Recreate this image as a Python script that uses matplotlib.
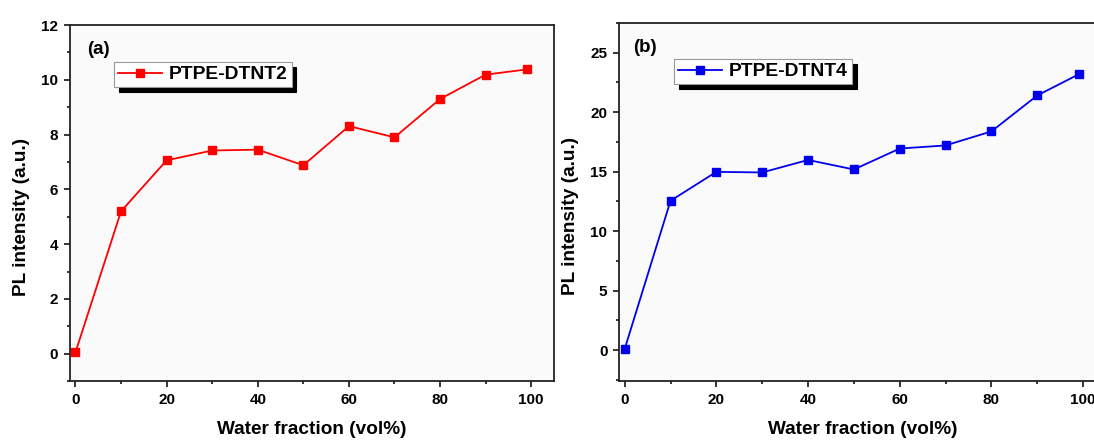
import numpy as np
import matplotlib
matplotlib.use("Agg")
import matplotlib.pyplot as plt
from matplotlib.ticker import MultipleLocator


water_fraction = [0, 10, 20, 30, 40, 50, 60, 70, 80, 90, 99]

pl_dtnt2 = [0.05, 5.2, 7.06, 7.42, 7.45, 6.88, 8.31, 7.9, 9.3, 10.19, 10.38]
pl_dtnt4 = [0.1, 12.55, 14.98, 14.93, 15.98, 15.18, 16.94, 17.2, 18.38, 21.4, 23.17]

x_ticks = [0, 20, 40, 60, 80, 100]
y_ticks_a = [0, 2, 4, 6, 8, 10, 12]
y_ticks_b = [0, 5, 10, 15, 20, 25]


plt.rcParams["font.family"] = ["Liberation Sans", "DejaVu Sans"]
plt.rcParams["font.weight"] = "bold"

fig = plt.figure(figsize=(10.94, 4.4), dpi=100)

ax_a = fig.add_axes([0.064, 0.134, 0.4424, 0.809])
ax_b = fig.add_axes([0.566, 0.134, 0.445, 0.814])

panels = [
    (ax_a, pl_dtnt2, "red", "PTPE-DTNT2", "(a)", y_ticks_a, (-1, 12), 1, (0.091, 0.896), (0.035, 0.93)),
    (ax_b, pl_dtnt4, "#0000ee", "PTPE-DTNT4", "(b)", y_ticks_b, (-2.6, 27.5), 2.5, (0.113, 0.899), (0.029, 0.93)),
]

for ax, values, color, name, tag, yticks, ylim, yminor, leg_pos, tag_pos in panels:
    ax.set_facecolor("#fafafa")
    ax.plot(water_fraction, values, color=color, linewidth=1.3, marker="s",
            markersize=5.3, label=name)

    ax.set_xlim(-1.2, 105)
    ax.set_ylim(*ylim)
    ax.set_xticks(x_ticks)
    ax.set_yticks(yticks)
    ax.xaxis.set_minor_locator(MultipleLocator(10))
    ax.yaxis.set_minor_locator(MultipleLocator(yminor))
    ax.tick_params(which="both", direction="out", top=False, right=False,
                   labelsize=11, width=1.1, pad=4)
    ax.tick_params(which="major", length=4.5)
    ax.tick_params(which="minor", length=2.5)
    for spine in ax.spines.values():
        spine.set_linewidth(1.3)
        spine.set_color("#222222")

    ax.set_xlabel("Water fraction (vol%)", fontsize=13.7, fontweight="bold")
    ax.set_ylabel("PL intensity (a.u.)", fontsize=13.7, fontweight="bold")
    ax.xaxis.set_label_coords(0.5, -0.112)
    ax.yaxis.set_label_coords(-0.083, 0.46)

    ax.text(tag_pos[0], tag_pos[1], tag, transform=ax.transAxes, fontsize=13.5,
            fontweight="bold", ha="left", va="center")

    leg = ax.legend(loc="upper left", bbox_to_anchor=leg_pos, borderaxespad=0,
                    fontsize=13.9, handlelength=2.3, handletextpad=0.35,
                    borderpad=0.2, fancybox=False, framealpha=1,
                    shadow={"ox": 3.4, "oy": -3.6, "color": "black", "alpha": 1})
    leg.get_frame().set_edgecolor("#999999")
    leg.get_frame().set_linewidth(0.8)

fig.savefig("out.png", dpi=100, facecolor="white")
